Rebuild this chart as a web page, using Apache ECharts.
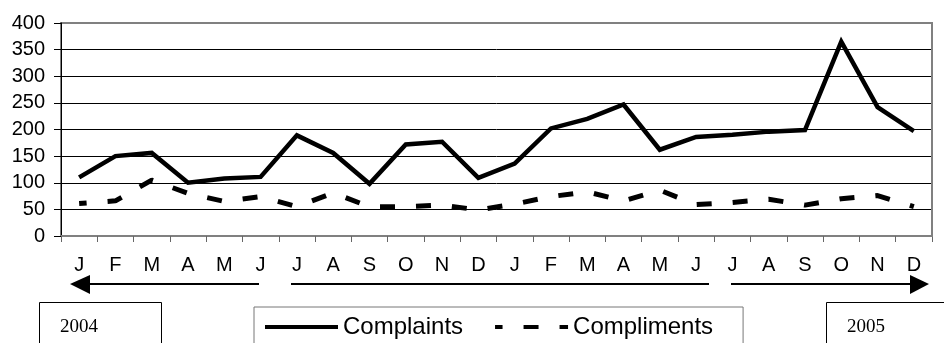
<!DOCTYPE html>
<html>
<head>
<meta charset="utf-8">
<script src="https://cdn.jsdelivr.net/npm/echarts@6/dist/echarts.min.js"></script>
<style>
  html, body { margin: 0; padding: 0; background: #fff; overflow: hidden; }
  #chart { width: 944px; height: 343px; }
</style>
</head>
<body>
<div id="chart"></div>
<script>
// Monthly feedback counts, January 2004 – December 2005
const months = ['J','F','M','A','M','J','J','A','S','O','N','D',
                'J','F','M','A','M','J','J','A','S','O','N','D'];
const complaints = [110, 150, 156, 100, 108, 111, 189, 156, 98, 172, 177, 109,
                    136, 202, 220, 247, 162, 186, 190, 196, 199, 365, 242, 197];
const compliments = [61, 66, 105, 80, 65, 74, 55, 81, 55, 55, 58, 49,
                     60, 74, 83, 66, 86, 59, 63, 69, 58, 70, 76, 55];
const yearLabels = ['2004', '2005'];
const seriesNames = ['Complaints', 'Compliments'];

const sans = 'Liberation Sans, Arial, sans-serif';
const serif = 'Liberation Serif, Times New Roman, serif';

const chart = echarts.init(document.getElementById('chart'), null, { renderer: 'canvas' });

chart.setOption({
  animation: false,
  backgroundColor: '#fff',
  grid: {
    left: 61, right: 12, top: 23, bottom: 107,
    show: true, borderColor: '#808080', borderWidth: 2
  },
  xAxis: {
    type: 'category',
    data: months,
    boundaryGap: true,
    axisLine: { lineStyle: { color: '#808080', width: 2 } },
    axisTick: { show: true, interval: 0, length: 6, lineStyle: { color: '#666', width: 1 } },
    axisLabel: { interval: 0, color: '#000', fontSize: 20, fontFamily: sans, margin: 19 }
  },
  yAxis: {
    type: 'value',
    min: 0, max: 400, interval: 50,
    axisLine: { show: true, lineStyle: { color: '#000', width: 1 } },
    axisTick: { show: true, length: 7, lineStyle: { color: '#000' } },
    axisLabel: { color: '#000', fontSize: 20, fontFamily: sans, margin: 16 },
    splitLine: { show: true, showMaxLine: false, lineStyle: { color: '#000', width: 1 } }
  },
  legend: {
    left: 254, top: 307,
    orient: 'horizontal',
    data: seriesNames,
    itemWidth: 73, itemHeight: 14, itemGap: 30,
    padding: [8, 30, 20, 9],
    borderColor: '#777', borderWidth: 1,
    backgroundColor: '#fff',
    itemStyle: { opacity: 0 },
    lineStyle: { width: 4 },
    textStyle: { color: '#000', fontSize: 24, fontFamily: sans }
  },
  series: [
    {
      name: seriesNames[0],
      type: 'line',
      data: complaints,
      symbol: 'none',
      lineStyle: { color: '#000', width: 4.5, join: 'miter' },
      itemStyle: { color: '#000' }
    },
    {
      name: seriesNames[1],
      type: 'line',
      data: compliments,
      symbol: 'none',
      lineStyle: { color: '#000', width: 5, type: [15, 21], dashOffset: 7.5 },
      itemStyle: { color: '#000' }
    }
  ]
});

// Right-hand frame edge of the plot area, placed from the axis scales
const topRight = chart.convertToPixel({ gridIndex: 0 }, [months.length - 0.5, 400]);
const bottomRight = chart.convertToPixel({ gridIndex: 0 }, [months.length - 0.5, 0]);
const frameX = Math.round(chart.getWidth() - 12);

chart.setOption({
  graphic: [
    { type: 'rect', shape: { x: frameX - 1, y: topRight[1] - 1, width: 2, height: bottomRight[1] - topRight[1] + 2 },
      style: { fill: '#808080' }, z: 100 },
    // period arrows beneath the month labels
    { type: 'polyline', shape: { points: [[89, 284], [259, 284]] }, style: { stroke: '#000', lineWidth: 2 } },
    { type: 'polygon', shape: { points: [[70, 284], [90, 275], [90, 294]] }, style: { fill: '#000' } },
    { type: 'polyline', shape: { points: [[291, 284], [709, 284]] }, style: { stroke: '#000', lineWidth: 2 } },
    { type: 'polyline', shape: { points: [[731, 284], [911, 284]] }, style: { stroke: '#000', lineWidth: 2 } },
    { type: 'polygon', shape: { points: [[929, 284], [910, 275], [910, 294]] }, style: { fill: '#000' } },
    // year boxes
    { type: 'rect', shape: { x: 39.5, y: 302.5, width: 122, height: 60 }, style: { fill: '#fff', stroke: '#000', lineWidth: 1 } },
    { type: 'text', x: 60, y: 327, style: { text: yearLabels[0], fill: '#000', font: '19px ' + serif, verticalAlign: 'middle' } },
    { type: 'rect', shape: { x: 826.5, y: 302.5, width: 140, height: 60 }, style: { fill: '#fff', stroke: '#000', lineWidth: 1 } },
    { type: 'text', x: 847, y: 327, style: { text: yearLabels[1], fill: '#000', font: '19px ' + serif, verticalAlign: 'middle' } }
  ]
});
</script>
</body>
</html>
